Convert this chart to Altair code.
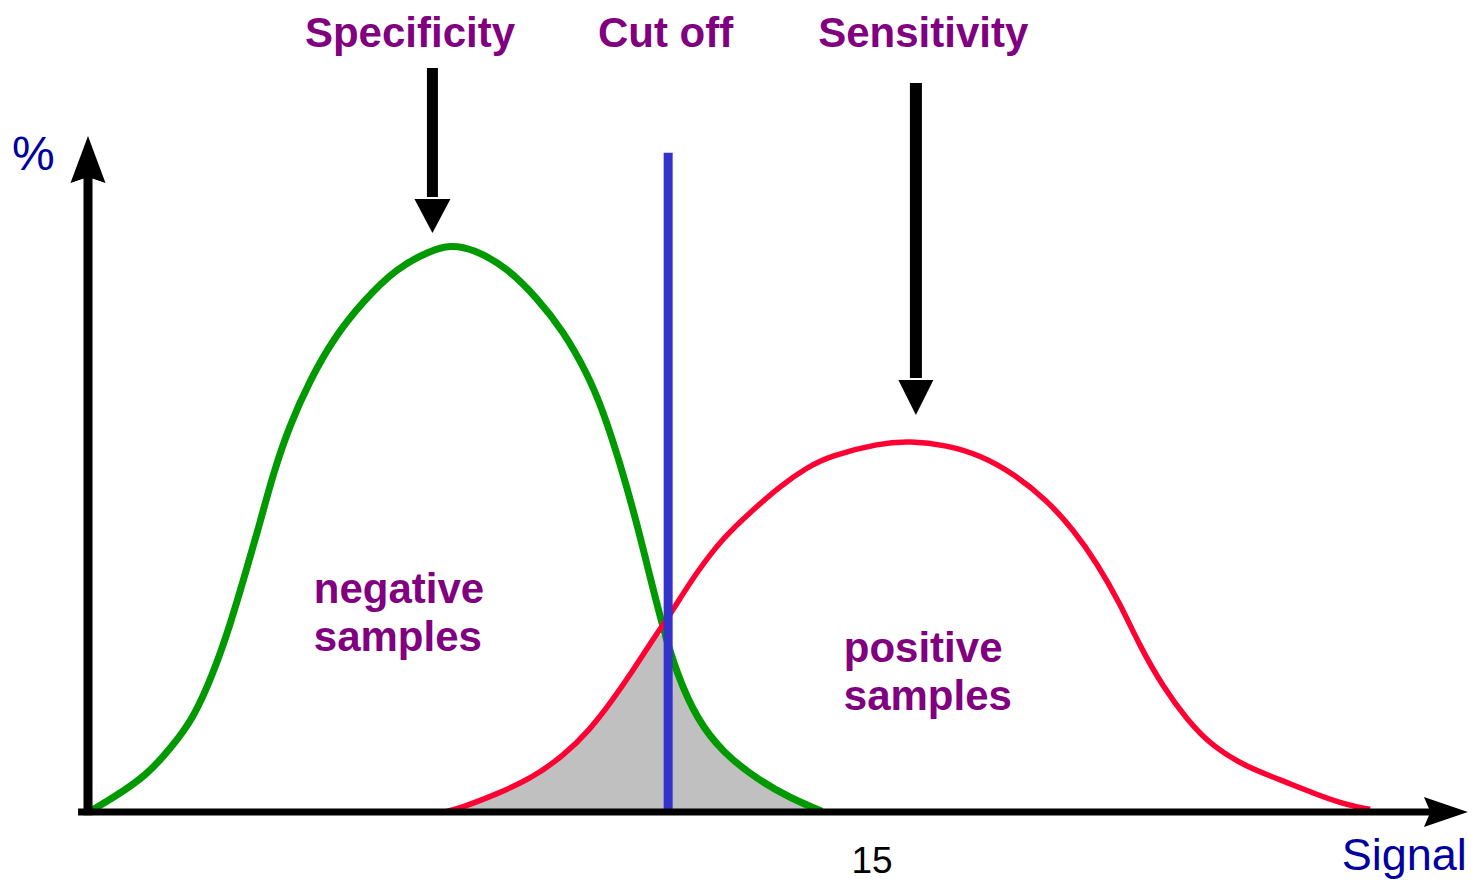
import altair as alt
import pandas as pd

# ---------------- data ----------------
# negative samples (green curve): signal units vs. %
neg_signal = [0.04, 0.48, 1.13, 1.57, 2.01, 2.39, 2.72, 3.04, 3.29, 3.54,
              3.86, 4.25, 4.69, 5.26, 5.91, 6.54, 6.93, 7.37, 8.02, 8.59,
              9.09, 9.55, 9.85, 10.18, 10.50, 10.75, 11.00, 11.27, 11.65, 12.15,
              12.80, 13.43, 14.04]
neg_pct = [0.1, 2.1, 5.5, 9.4, 13.8, 20.5, 27.8, 36.3, 43.0, 50.3,
           57.6, 64.3, 70.4, 76.0, 81.0, 83.5, 84.4, 83.8, 81.0, 76.5,
           71.6, 65.3, 59.8, 51.9, 43.0, 35.1, 27.4, 20.5, 13.8, 8.8,
           4.9, 2.1, 0.1]

# positive samples (red curve)
pos_signal = [6.83, 7.17, 7.83, 8.46, 9.09, 9.60, 10.04, 10.43, 10.75, 11.00,
              11.33, 11.65, 12.15, 12.67, 13.24, 13.76, 14.20, 15.15, 15.73, 16.43,
              17.07, 17.70, 18.35, 18.85, 19.30, 19.74, 20.13, 20.57, 21.03, 21.52,
              22.17, 22.81, 23.44, 24.09, 24.53]
pos_pct = [0.0, 0.7, 2.7, 4.9, 8.3, 12.2, 16.7, 21.1, 25.0, 27.8,
           31.8, 35.7, 40.8, 44.6, 48.5, 51.3, 53.0, 54.9, 55.2, 54.6,
           53.1, 50.4, 46.4, 42.0, 37.1, 31.1, 24.6, 18.6, 13.7, 9.7,
           6.7, 4.8, 2.8, 1.0, 0.4]

cutoff = 11.10          # cut-off signal value
tick_values = [15]      # the lone x tick label

# annotation labels
top_labels = ["Specificity", "Cut off", "Sensitivity"]
top_label_x = [6.16, 11.05, 15.98]
neg_label = ["negative", "samples"]
pos_label = ["positive", "samples"]

# ---------------- layout ----------------
W, H = 1460, 874
PX_PER_U = 784 / 15.0
PX_PER_V = 6.72
ORIGIN_X, ORIGIN_Y = 80, 804   # origin position inside the plot area (px)
x_dom = [-ORIGIN_X / PX_PER_U, (W - ORIGIN_X) / PX_PER_U]
y_dom = [-(H - ORIGIN_Y) / PX_PER_V, ORIGIN_Y / PX_PER_V]

xs = alt.Scale(domain=x_dom, nice=False, zero=False)
ys = alt.Scale(domain=y_dom, nice=False, zero=False)

def X(f="x"):
    return alt.X(f"{f}:Q", scale=xs, axis=None)

def Y(f="y"):
    return alt.Y(f"{f}:Q", scale=ys, axis=None)

neg_df = pd.DataFrame({"x": neg_signal, "y": neg_pct})
pos_df = pd.DataFrame({"x": pos_signal, "y": pos_pct})

# overlap region: below red left of cut-off crossing, below green to the right
overlap = [(a, b) for a, b in zip(pos_signal, pos_pct) if a <= 11.0] + \
          [(a, b) for a, b in zip(neg_signal, neg_pct) if a > 11.0]
fill_df = pd.DataFrame(overlap, columns=["x", "y"])

GREEN = "#009900"
RED = "#FF0033"
BLUE = "#3333CC"
PURPLE = "#800080"
NAVY = "#0000A0"
FONT = "Liberation Sans"

area = alt.Chart(fill_df).mark_area(color="#C0C0C0", interpolate="basis", opacity=1).encode(
    x=X(), y=Y(), y2=alt.datum(0))

green = alt.Chart(neg_df).mark_line(color=GREEN, strokeWidth=7, interpolate="basis").encode(
    x=X(), y=Y())
red = alt.Chart(pos_df).mark_line(color=RED, strokeWidth=5.5, interpolate="basis").encode(
    x=X(), y=Y())

rules_df = pd.DataFrame([
    # cut-off line
    dict(x=cutoff, x2=cutoff, y=0, y2=98.1, c=BLUE, w=9),
    # y axis shaft
    dict(x=0, x2=0, y=-0.5, y2=94.5, c="black", w=9),
    # x axis shaft
    dict(x=-0.19, x2=25.7, y=0, y2=0, c="black", w=7),
    # specificity arrow shaft
    dict(x=6.59, x2=6.59, y=91.5, y2=110.7, c="black", w=11),
    # sensitivity arrow shaft
    dict(x=15.84, x2=15.84, y=64.6, y2=108.5, c="black", w=12),
])
rules = alt.Chart(rules_df).mark_rule().encode(
    x=X(), x2="x2:Q", y=Y(), y2="y2:Q",
    color=alt.Color("c:N", scale=None),
    strokeWidth=alt.StrokeWidth("w:Q", scale=None))

def head(x, y, size, shape):
    return alt.Chart(pd.DataFrame({"x": [x], "y": [y]})).mark_point(
        filled=True, color="black", opacity=1, strokeWidth=0, size=size, shape=shape
    ).encode(x=X(), y=Y())

heads = [
    head(0, 97.1, 2209, "M0,-1 L0.745,1 L0,0.75 L-0.745,1 Z"),
    head(25.98, 0, 1936, "M1,0 L-1,-0.68 L-0.7,0 L-1,0.68 Z"),
    head(6.59, 88.7, 1296, "M-1,-0.944 L1,-0.944 L0,0.944 Z"),
    head(15.84, 61.7, 1225, "M-1,-1 L1,-1 L0,1 Z"),
]

top_df = pd.DataFrame({"x": top_label_x, "y": [113.8] * 3, "t": top_labels})
top_text = alt.Chart(top_df).mark_text(
    font=FONT, fontSize=42, fontWeight="bold", color=PURPLE, align="center", baseline="alphabetic"
).encode(x=X(), y=Y(), text="t:N")

side_df = pd.DataFrame({
    "x": [4.32, 4.32, 14.46, 14.46],
    "y": [31.1, 24.0, 22.3, 15.2],
    "t": neg_label + pos_label,
})
side_text = alt.Chart(side_df).mark_text(
    font=FONT, fontSize=42, fontWeight="bold", color=PURPLE, align="left", baseline="alphabetic"
).encode(x=X(), y=Y(), text="t:N")

pct_text = alt.Chart(pd.DataFrame({"x": [-1.454], "y": [95.5], "t": ["%"]})).mark_text(
    font=FONT, fontSize=48, color=NAVY, align="left", baseline="alphabetic"
).encode(x=X(), y=Y(), text="t:N")

signal_text = alt.Chart(pd.DataFrame({"x": [26.38], "y": [-8.63], "t": ["Signal"]})).mark_text(
    font=FONT, fontSize=45, color=NAVY, align="right", baseline="alphabetic"
).encode(x=X(), y=Y(), text="t:N")

tick_text = alt.Chart(pd.DataFrame({"x": tick_values, "y": [-9.15], "t": [str(v) for v in tick_values]})).mark_text(
    font=FONT, fontSize=37, color="black", align="center", baseline="alphabetic"
).encode(x=X(), y=Y(), text="t:N")

chart = alt.layer(
    area, green, red, rules, *heads, top_text, side_text, pct_text, signal_text, tick_text
).properties(
    width=W, height=H, padding=0, autosize="none", background="white"
).configure_view(stroke=None)

chart.save("out.html", embed_options={"renderer": "svg", "actions": False})
